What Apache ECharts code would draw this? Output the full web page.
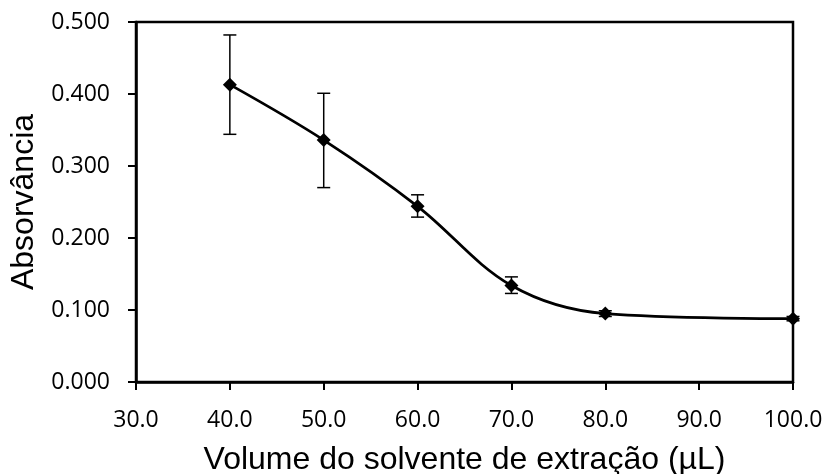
<!DOCTYPE html>
<html>
<head>
<meta charset="utf-8">
<script src="https://cdn.jsdelivr.net/npm/echarts@6/dist/echarts.min.js"></script>
<style>html,body{margin:0;padding:0;background:#fff;}#chart{width:826px;height:474px;}</style>
</head>
<body>
<div id="chart"></div>
<script>
var volumes = [40, 50, 60, 70, 80, 100];
var absorbance = [0.413, 0.336, 0.244, 0.134, 0.095, 0.088];
var errLow = [0.344, 0.270, 0.229, 0.123, 0.091, 0.085];
var errHigh = [0.482, 0.401, 0.260, 0.146, 0.099, 0.091];
var xTitle = 'Volume do solvente de extração (µL)';
var yTitle = 'Absorvância';

var chart = echarts.init(document.getElementById('chart'), null, {renderer: 'canvas'});
var lineData = volumes.map(function (v, i) { return [v, absorbance[i]]; });
var errData = volumes.map(function (v, i) { return [v, errLow[i], errHigh[i]]; });
var tickFont = {color: '#000', fontFamily: 'Open Sans', fontSize: 23};

chart.setOption({
  animation: false,
  grid: {left: 136, top: 22, right: 33, bottom: 92, show: true, borderColor: '#000', borderWidth: 2.5, backgroundColor: 'transparent', containLabel: false, outerBoundsMode: 'none'},
  xAxis: {
    type: 'value', min: 30, max: 100, interval: 10,
    name: xTitle, nameLocation: 'middle', nameGap: 62,
    nameTextStyle: {color: '#000', fontFamily: 'Liberation Sans', fontSize: 32},
    axisLine: {show: true, lineStyle: {color: '#000', width: 2.5}},
    axisTick: {show: true, inside: false, length: 8, lineStyle: {color: '#000', width: 2}},
    axisLabel: Object.assign({margin: 27, formatter: function (v) { return v.toFixed(1); }}, tickFont),
    splitLine: {show: false}
  },
  yAxis: {
    type: 'value', min: 0, max: 0.5, interval: 0.1,
    name: yTitle, nameLocation: 'middle', nameGap: 95,
    nameTextStyle: {color: '#000', fontFamily: 'Liberation Sans', fontSize: 32},
    axisLine: {show: true, lineStyle: {color: '#000', width: 2.5}},
    axisTick: {show: true, inside: false, length: 8, lineStyle: {color: '#000', width: 2}},
    axisLabel: Object.assign({margin: 26, formatter: function (v) { return v.toFixed(3); }}, tickFont),
    splitLine: {show: false}
  },
  series: [
    {
      type: 'line', data: lineData, smooth: 0.35,
      symbol: 'diamond', symbolSize: 14,
      lineStyle: {color: '#000', width: 2.75},
      itemStyle: {color: '#000'},
      z: 3
    },
    {
      type: 'custom', data: errData, z: 4,
      renderItem: function (params, api) {
        var x = api.value(0);
        var lo = api.coord([x, api.value(1)]);
        var hi = api.coord([x, api.value(2)]);
        var w = 6.5;
        var st = {stroke: '#000', lineWidth: 1.5};
        return {type: 'group', children: [
          {type: 'line', shape: {x1: lo[0], y1: lo[1], x2: hi[0], y2: hi[1]}, style: st},
          {type: 'line', shape: {x1: lo[0] - w, y1: lo[1], x2: lo[0] + w, y2: lo[1]}, style: st},
          {type: 'line', shape: {x1: hi[0] - w, y1: hi[1], x2: hi[0] + w, y2: hi[1]}, style: st}
        ]};
      }
    }
  ]
});
</script>
</body>
</html>
